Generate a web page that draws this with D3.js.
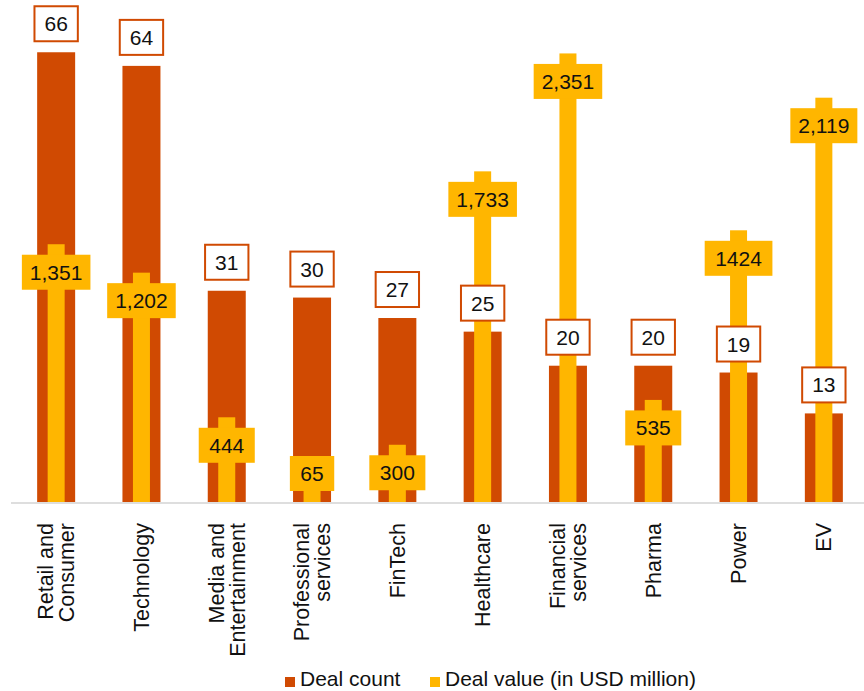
<!DOCTYPE html>
<html>
<head>
<meta charset="utf-8">
<script src="https://cdn.jsdelivr.net/npm/d3@7"></script>
<style>
  html, body { margin: 0; padding: 0; background: #fff; }
  svg { display: block; font-family: "Liberation Sans", Arial, Helvetica, sans-serif; }
</style>
</head>
<body>
<svg id="chart" width="864" height="691"></svg>
<script>
// ---- data ----
const categories = [
  ["Retail and", "Consumer"],
  ["Technology"],
  ["Media and", "Entertainment"],
  ["Professional", "services"],
  ["FinTech"],
  ["Healthcare"],
  ["Financial", "services"],
  ["Pharma"],
  ["Power"],
  ["EV"]
];
const dealCount = [66, 64, 31, 30, 27, 25, 20, 20, 19, 13];
const dealValue = [1351, 1202, 444, 65, 300, 1733, 2351, 535, 1424, 2119];
const dealValueLabels = ["1,351", "1,202", "444", "65", "300", "1,733", "2,351", "535", "1424", "2,119"];
const seriesNames = ["Deal count", "Deal value (in USD million)"];
const countAxisMax = 70;
const valueAxisMax = 2500;

// ---- style ----
const RED = "#D04A02";
const YELLOW = "#FFB600";
const FONT = 21;
const CAT_FONT = 21.5;

const svg = d3.select("#chart");
const idx = d3.range(categories.length);

const x = d3.scaleBand().domain(idx).range([13.5, 866.5]).padding(0);
const yCount = d3.scaleLinear().domain([0, countAxisMax]).range([502, 25]);
const yValue = d3.scaleLinear().domain([0, valueAxisMax]).range([502, 25]);
const cx = i => x(i) + x.bandwidth() / 2;

const redW = 38, yelW = 17;

// baseline axis
svg.append("line")
  .attr("x1", 11).attr("x2", 864)
  .attr("y1", yCount(0) + 1).attr("y2", yCount(0) + 1)
  .attr("stroke", "#dedede").attr("stroke-width", 2);

// red bars
svg.append("g").selectAll("rect").data(idx).join("rect")
  .attr("x", i => cx(i) - redW / 2)
  .attr("width", redW)
  .attr("y", i => yCount(dealCount[i]))
  .attr("height", i => yCount(0) - yCount(dealCount[i]))
  .attr("fill", RED);

// yellow bars
svg.append("g").selectAll("rect").data(idx).join("rect")
  .attr("x", i => cx(i) - yelW / 2)
  .attr("width", yelW)
  .attr("y", i => yValue(dealValue[i]))
  .attr("height", i => yValue(0) - yValue(dealValue[i]))
  .attr("fill", YELLOW);

// value labels (yellow boxes)
const vg = svg.append("g").selectAll("g").data(idx).join("g");
vg.each(function(i) {
  const g = d3.select(this);
  const h = 35;
  const top = Math.min(yValue(dealValue[i]) + 10.5, yValue(0) - 11 - h);
  const t = g.append("text")
    .attr("x", cx(i)).attr("y", top + h / 2)
    .attr("text-anchor", "middle").attr("dy", "0.36em")
    .attr("font-size", FONT).attr("fill", "#111")
    .text(dealValueLabels[i]);
  const w = t.node().getComputedTextLength();
  const pad = dealValueLabels[i].includes(",") ? 8 : 10.5;
  g.insert("rect", "text")
    .attr("x", cx(i) - w / 2 - pad).attr("width", w + 2 * pad)
    .attr("y", top).attr("height", h)
    .attr("fill", YELLOW);
});

// count labels (white boxes, red border)
const cg = svg.append("g").selectAll("g").data(idx).join("g");
cg.each(function(i) {
  const g = d3.select(this);
  const h = 35;
  const bottom = yCount(dealCount[i]) - 11;
  const top = bottom - h;
  const t = g.append("text")
    .attr("x", cx(i)).attr("y", top + h / 2)
    .attr("text-anchor", "middle").attr("dy", "0.36em")
    .attr("font-size", FONT).attr("fill", "#111")
    .text(dealCount[i]);
  const w = t.node().getComputedTextLength();
  const pad = 10;
  g.insert("rect", "text")
    .attr("x", cx(i) - w / 2 - pad).attr("width", w + 2 * pad)
    .attr("y", top).attr("height", h)
    .attr("fill", "#fff").attr("stroke", RED).attr("stroke-width", 2);
});

// category labels (rotated)
const lineH = 21;
svg.append("g").selectAll("text").data(idx).join("text")
  .attr("transform", i => `translate(${cx(i)},523) rotate(-90)`)
  .attr("text-anchor", "end")
  .attr("font-size", CAT_FONT).attr("fill", "#111")
  .each(function(i) {
    const lines = categories[i];
    const n = lines.length;
    const sel = d3.select(this);
    lines.forEach((ln, k) => {
      sel.append("tspan")
        .attr("x", 0)
        .attr("y", (k - (n - 1) / 2) * lineH + 7.5)
        .text(ln);
    });
  });

// legend
const legend = svg.append("g");
const legItems = [
  { name: seriesNames[0], color: RED, x: 285 },
  { name: seriesNames[1], color: YELLOW, x: 430 }
];
legItems.forEach(d => {
  legend.append("rect").attr("x", d.x).attr("y", 677).attr("width", 10).attr("height", 10).attr("fill", d.color);
  legend.append("text").attr("x", d.x + 15).attr("y", 686)
    .attr("font-size", FONT).attr("fill", "#111").text(d.name);
});
</script>
</body>
</html>
